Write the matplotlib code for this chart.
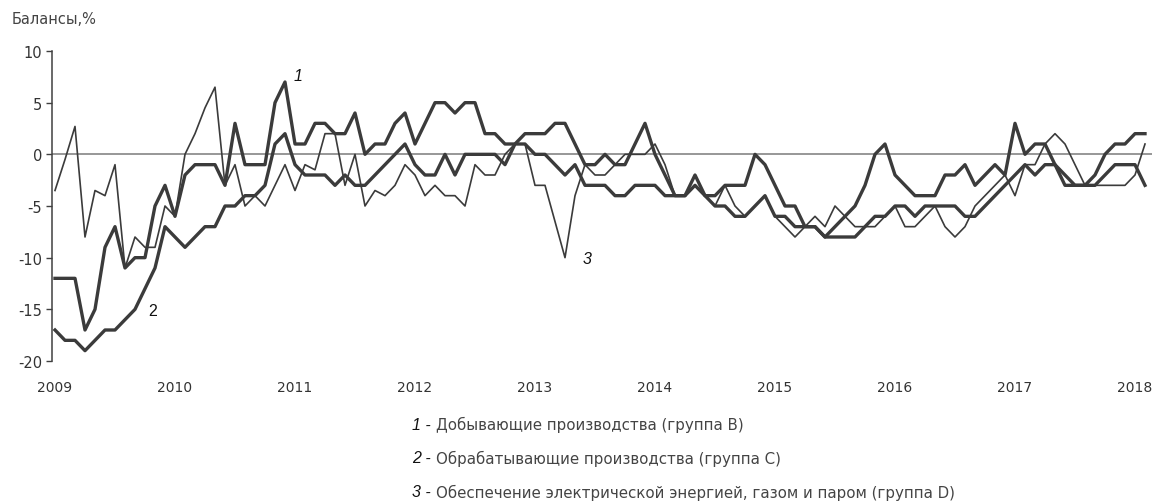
import numpy as np
import matplotlib
matplotlib.use("Agg")
import matplotlib.pyplot as plt

# ---- data (monthly, Jan 2009 .. Feb 2018) ----
years = [2009, 2010, 2011, 2012, 2013, 2014, 2015, 2016, 2017, 2018]
start_year = 2009

mining = [  # 1 - Добывающие производства (группа B)
    -12, -12, -12, -17, -15, -9, -7, -11, -10, -10, -5, -3,
    -6, -2, -1, -1, -1, -3, 3, -1, -1, -1, 5, 7,
    1, 1, 3, 3, 2, 2, 4, 0, 1, 1, 3, 4,
    1, 3, 5, 5, 4, 5, 5, 2, 2, 1, 1, 2,
    2, 2, 3, 3, 1, -1, -1, 0, -1, -1, 1, 3,
    0, -2, -4, -4, -2, -4, -4, -3, -3, -3, 0, -1,
    -3, -5, -5, -7, -7, -8, -7, -6, -5, -3, 0, 1,
    -2, -3, -4, -4, -4, -2, -2, -1, -3, -2, -1, -2,
    3, 0, 1, 1, -1, -3, -3, -3, -2, 0, 1, 1,
    2, 2,
]

manufacturing = [  # 2 - Обрабатывающие производства (группа C)
    -17, -18, -18, -19, -18, -17, -17, -16, -15, -13, -11, -7,
    -8, -9, -8, -7, -7, -5, -5, -4, -4, -3, 1, 2,
    -1, -2, -2, -2, -3, -2, -3, -3, -2, -1, 0, 1,
    -1, -2, -2, 0, -2, 0, 0, 0, 0, -1, 1, 1,
    0, 0, -1, -2, -1, -3, -3, -3, -4, -4, -3, -3,
    -3, -4, -4, -4, -3, -4, -5, -5, -6, -6, -5, -4,
    -6, -6, -7, -7, -7, -8, -8, -8, -8, -7, -6, -6,
    -5, -5, -6, -5, -5, -5, -5, -6, -6, -5, -4, -3,
    -2, -1, -2, -1, -1, -2, -3, -3, -3, -2, -1, -1,
    -1, -3,
]

energy = [  # 3 - Обеспечение электрической энергией, газом и паром (группа D)
    -3.5, -0.5, 2.7, -8, -3.5, -4, -1, -11, -8, -9, -9, -5,
    -6, 0, 2, 4.5, 6.5, -3, -1, -5, -4, -5, -3, -1,
    -3.5, -1, -1.5, 2, 2, -3, 0, -5, -3.5, -4, -3, -1,
    -2, -4, -3, -4, -4, -5, -1, -2, -2, 0, 1, 1,
    -3, -3, -6.5, -10, -4, -1, -2, -2, -1, 0, 0, 0,
    1, -1, -4, -4, -3, -4, -5, -3, -5, -6, -5, -4,
    -6, -7, -8, -7, -6, -7, -5, -6, -7, -7, -7, -6,
    -5, -7, -7, -6, -5, -7, -8, -7, -5, -4, -3, -2,
    -4, -1, -1, 1, 2, 1, -1, -3, -3, -3, -3, -3,
    -2, 1,
]

y_ticks = [10, 5, 0, -5, -10, -15, -20]
legend_nums = ["1 -", "2 -", "3 -"]
legend_texts = [
    "Добывающие производства (группа В)",
    "Обрабатывающие производства (группа С)",
    "Обеспечение электрической энергией, газом и паром (группа D)",
]
series_labels = ["1", "2", "3"]

# ---- figure ----
W, H = 1160, 502
fig = plt.figure(figsize=(W / 100, H / 100), dpi=100)
ax = fig.add_axes([52 / W, (H - 362) / H, 1100 / W, 310 / H])

line_col = "#3b3b3b"
x = np.arange(len(mining))
ax.plot(x, energy, color=line_col, lw=1.2, zorder=3)
ax.plot(x, manufacturing, color=line_col, lw=2.4, zorder=4)
ax.plot(x, mining, color=line_col, lw=2.4, zorder=4)

ax.axhline(0, color="#7a7a7a", lw=1.1, zorder=2)

ax.set_xlim(-0.3, 109.7)
ax.set_ylim(-20, 10)

for s in ["top", "right", "bottom"]:
    ax.spines[s].set_visible(False)
ax.spines["left"].set_color("#404040")
ax.spines["left"].set_linewidth(1.1)

ax.set_yticks(y_ticks)
ax.set_yticklabels([str(v) for v in y_ticks])
ax.tick_params(axis="y", direction="out", length=4, width=1.0, color="#404040",
               labelsize=10.5, labelcolor="#333333", pad=3)

xpos = [(y - start_year) * 12 for y in years]
ax.set_xticks(xpos)
ax.set_xticklabels([str(y) for y in years])
ax.tick_params(axis="x", length=0, labelsize=10, labelcolor="#333333", pad=14)

# series labels
ax.text(24.3, 7.6, series_labels[0], fontsize=11.5, style="italic",
        family="Liberation Sans", color="#111111", ha="center", va="center")
ax.text(9.8, -15.1, series_labels[1], fontsize=11.5,
        family="Liberation Sans", color="#111111", ha="center", va="center")
ax.text(53.2, -10.1, series_labels[2], fontsize=11.5, style="italic",
        family="Liberation Sans", color="#111111", ha="center", va="center")

fig.text(12 / W, 1 - 20 / H, "Балансы,%", fontsize=10.5, color="#444444",
         ha="left", va="center")

ys = [425, 459, 493]
for num, txt, yy in zip(legend_nums, legend_texts, ys):
    fig.text(412 / W, 1 - yy / H, num, fontsize=11.5, style="italic",
             family="Liberation Sans", color="#111111", ha="left", va="center")
    fig.text(436 / W, 1 - yy / H, txt, fontsize=10.8, color="#444444",
             ha="left", va="center")

fig.savefig("out.png", dpi=100)
